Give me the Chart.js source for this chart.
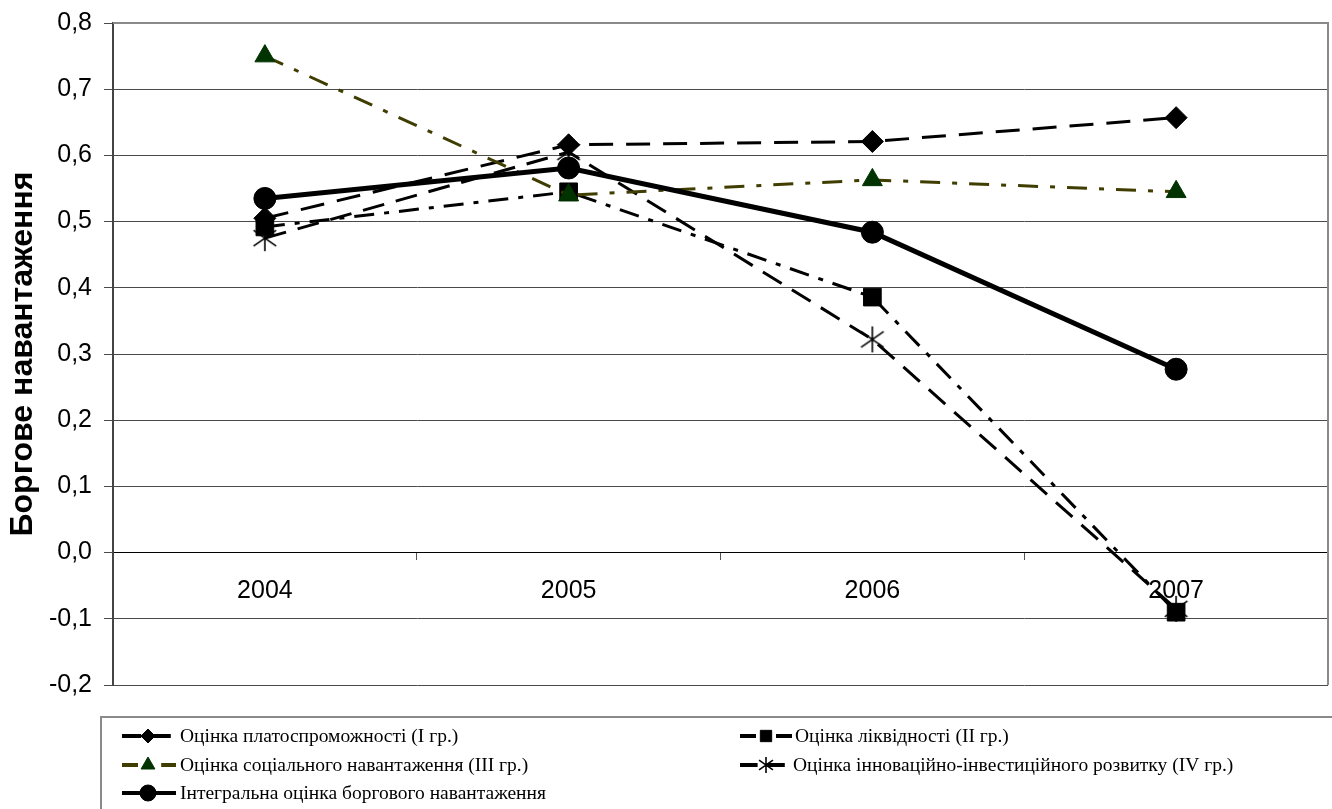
<!DOCTYPE html>
<html>
<head>
<meta charset="utf-8">
<script src="https://cdn.jsdelivr.net/npm/chart.js@4.4.1/dist/chart.umd.min.js"></script>
<style>
  body { margin: 0; background: #fff; }
  canvas { display: block; }
</style>
</head>
<body>
<canvas id="chart" width="1332" height="809"></canvas>
<script>
const years = ['2004', '2005', '2006', '2007'];

const solvency = [0.505, 0.616, 0.621, 0.657];
const liquidity = [0.492, 0.545, 0.386, -0.09];
const social = [0.750, 0.540, 0.563, 0.545];
const innovation = [0.475, 0.605, 0.322, -0.085];
const integral = [0.535, 0.581, 0.484, 0.277];

const seriesNames = [
  'Оцінка платоспроможності (I гр.)',
  'Оцінка ліквідності (II гр.)',
  'Оцінка соціального навантаження (III гр.)',
  'Оцінка інноваційно-інвестиційного розвитку (IV гр.)',
  'Інтегральна оцінка боргового навантаження'
];

const yMin = -0.2;
const yMax = 0.8;
const yStep = 0.1;

// excel style asterisk marker: an X with a vertical bar
const makeStar = function(size) {
  const c = document.createElement('canvas');
  c.width = size;
  c.height = size;
  const g = c.getContext('2d');
  const m = size / 2;
  const r = size / 2 - 1;
  g.strokeStyle = '#000';
  g.lineWidth = 1.6;
  g.beginPath();
  g.moveTo(m, m - r); g.lineTo(m, m + r);
  g.moveTo(m - r * 0.87, m - r * 0.6); g.lineTo(m + r * 0.87, m + r * 0.6);
  g.moveTo(m - r * 0.87, m + r * 0.6); g.lineTo(m + r * 0.87, m - r * 0.6);
  g.stroke();
  return c;
};

const starBig = makeStar(28);
const starSmall = makeStar(18);

// order: lower number is drawn on top
const datasets = [
  {
    label: seriesNames[0], data: solvency, order: 2,
    borderColor: '#000', backgroundColor: '#000', borderWidth: 3, borderDash: [24, 13],
    pointStyle: 'rectRot', pointRadius: 11, pointBorderWidth: 1,
    legendStyle: 'rectRot', legendRadius: 7
  },
  {
    label: seriesNames[1], data: liquidity, order: 3,
    borderColor: '#000', backgroundColor: '#000', borderWidth: 3, borderDash: [20, 10, 5, 10],
    pointStyle: 'rect', pointRadius: 12.5, pointBorderWidth: 1,
    legendStyle: 'rect', legendRadius: 8
  },
  {
    label: seriesNames[2], data: social, order: 1,
    borderColor: '#3f3d00', backgroundColor: '#003300', borderWidth: 3, borderDash: [20, 12, 5, 12],
    pointBorderColor: '#003300', pointStyle: 'triangle', pointRadius: 11.5, pointBorderWidth: 1,
    legendStyle: 'triangle', legendRadius: 8
  },
  {
    label: seriesNames[3], data: innovation, order: 4,
    borderColor: '#000', backgroundColor: '#000', borderWidth: 3, borderDash: [22, 12],
    pointStyle: starBig, pointRadius: 12,
    legendStyle: starSmall, legendRadius: 8
  },
  {
    label: seriesNames[4], data: integral, order: 0,
    borderColor: '#000', backgroundColor: '#000', borderWidth: 5,
    pointStyle: 'circle', pointRadius: 11, pointBorderWidth: 1,
    legendStyle: 'circle', legendRadius: 8
  }
];

// plot frame on top and right, like the excel chart
const framePlugin = {
  id: 'frame',
  beforeDatasetsDraw(chart) {
    const { ctx, chartArea } = chart;
    ctx.save();
    ctx.strokeStyle = '#8a8a8a';
    ctx.lineWidth = 2;
    ctx.beginPath();
    ctx.moveTo(chartArea.left, chartArea.top);
    ctx.lineTo(chartArea.right, chartArea.top);
    ctx.lineTo(chartArea.right, chartArea.bottom);
    ctx.stroke();
    ctx.restore();
  }
};

// two column legend in a box below the plot
const legendBoxPlugin = {
  id: 'legendBox',
  afterDraw(chart) {
    const ctx = chart.ctx;
    const top = chart.chartArea.bottom + 32;
    ctx.save();
    ctx.strokeStyle = '#8a8a8a';
    ctx.lineWidth = 2;
    ctx.strokeRect(101, top, 1400, 200);

    const slots = [
      { x: 122, y: top + 19, tx: 180 },
      { x: 740, y: top + 19, tx: 795 },
      { x: 122, y: top + 48, tx: 180 },
      { x: 740, y: top + 48, tx: 793 },
      { x: 122, y: top + 76, tx: 180 }
    ];
    const legendOrder = [0, 1, 2, 3, 4];

    legendOrder.forEach((di, i) => {
      const ds = chart.data.datasets[di];
      const s = slots[i];
      ctx.save();
      ctx.strokeStyle = ds.borderColor;
      ctx.lineWidth = 4;
      ctx.setLineDash(ds.borderDash ? ds.borderDash.map(v => v * 0.8) : []);
      ctx.beginPath();
      ctx.moveTo(s.x, s.y);
      ctx.lineTo(s.x + 54, s.y);
      ctx.stroke();
      ctx.setLineDash([]);
      ctx.fillStyle = ds.backgroundColor;
      ctx.strokeStyle = ds.pointBorderColor || ds.borderColor;
      ctx.lineWidth = 1;
      Chart.helpers.drawPoint(ctx, {
        pointStyle: ds.legendStyle,
        radius: ds.legendRadius,
        rotation: 0,
        borderWidth: 1
      }, s.x + 26, s.y);
      ctx.restore();

      ctx.fillStyle = '#000';
      ctx.font = '19.5px "Liberation Serif", "Times New Roman", serif';
      ctx.textAlign = 'left';
      ctx.textBaseline = 'middle';
      ctx.fillText(ds.label, s.tx, s.y + 1);
    });
    ctx.restore();
  }
};

const ctx = document.getElementById('chart').getContext('2d');
const chart = new Chart(ctx, {
  type: 'line',
  data: {
    labels: years,
    datasets: datasets
  },
  options: {
    responsive: false,
    devicePixelRatio: 1,
    animation: false,
    layout: {
      autoPadding: false,
      padding: { left: 0, right: 4, top: 23, bottom: 124 }
    },
    plugins: {
      legend: { display: false },
      tooltip: { enabled: false }
    },
    elements: {
      line: { tension: 0 }
    },
    scales: {
      x: {
        type: 'category',
        offset: true,
        position: { y: 0 },
        grid: {
          offset: true,
          drawOnChartArea: false,
          drawTicks: true,
          tickLength: 7,
          color: '#555'
        },
        border: { display: true, color: '#000', width: 1 },
        ticks: {
          color: '#000',
          padding: 17,
          font: { family: '"Liberation Sans", Arial, sans-serif', size: 25 }
        }
      },
      y: {
        min: yMin,
        max: yMax,
        afterFit(scale) {
          scale.width = 113;
          scale.paddingTop = 0;
          scale.paddingBottom = 0;
        },
        grid: {
          color: '#4a4a4a',
          lineWidth: 1,
          drawTicks: true,
          tickLength: 9
        },
        border: { display: true, color: '#444', width: 2 },
        ticks: {
          stepSize: yStep,
          color: '#000',
          padding: 12,
          font: { family: '"Liberation Sans", Arial, sans-serif', size: 25 },
          callback: v => v.toFixed(1).replace('.', ',')
        },
        title: {
          display: true,
          text: 'Боргове навантаження',
          color: '#000',
          padding: { top: 4, bottom: 0 },
          font: { family: '"Liberation Sans", Arial, sans-serif', size: 32, weight: 'bold' }
        }
      }
    }
  },
  plugins: [framePlugin, legendBoxPlugin]
});
</script>
</body>
</html>
